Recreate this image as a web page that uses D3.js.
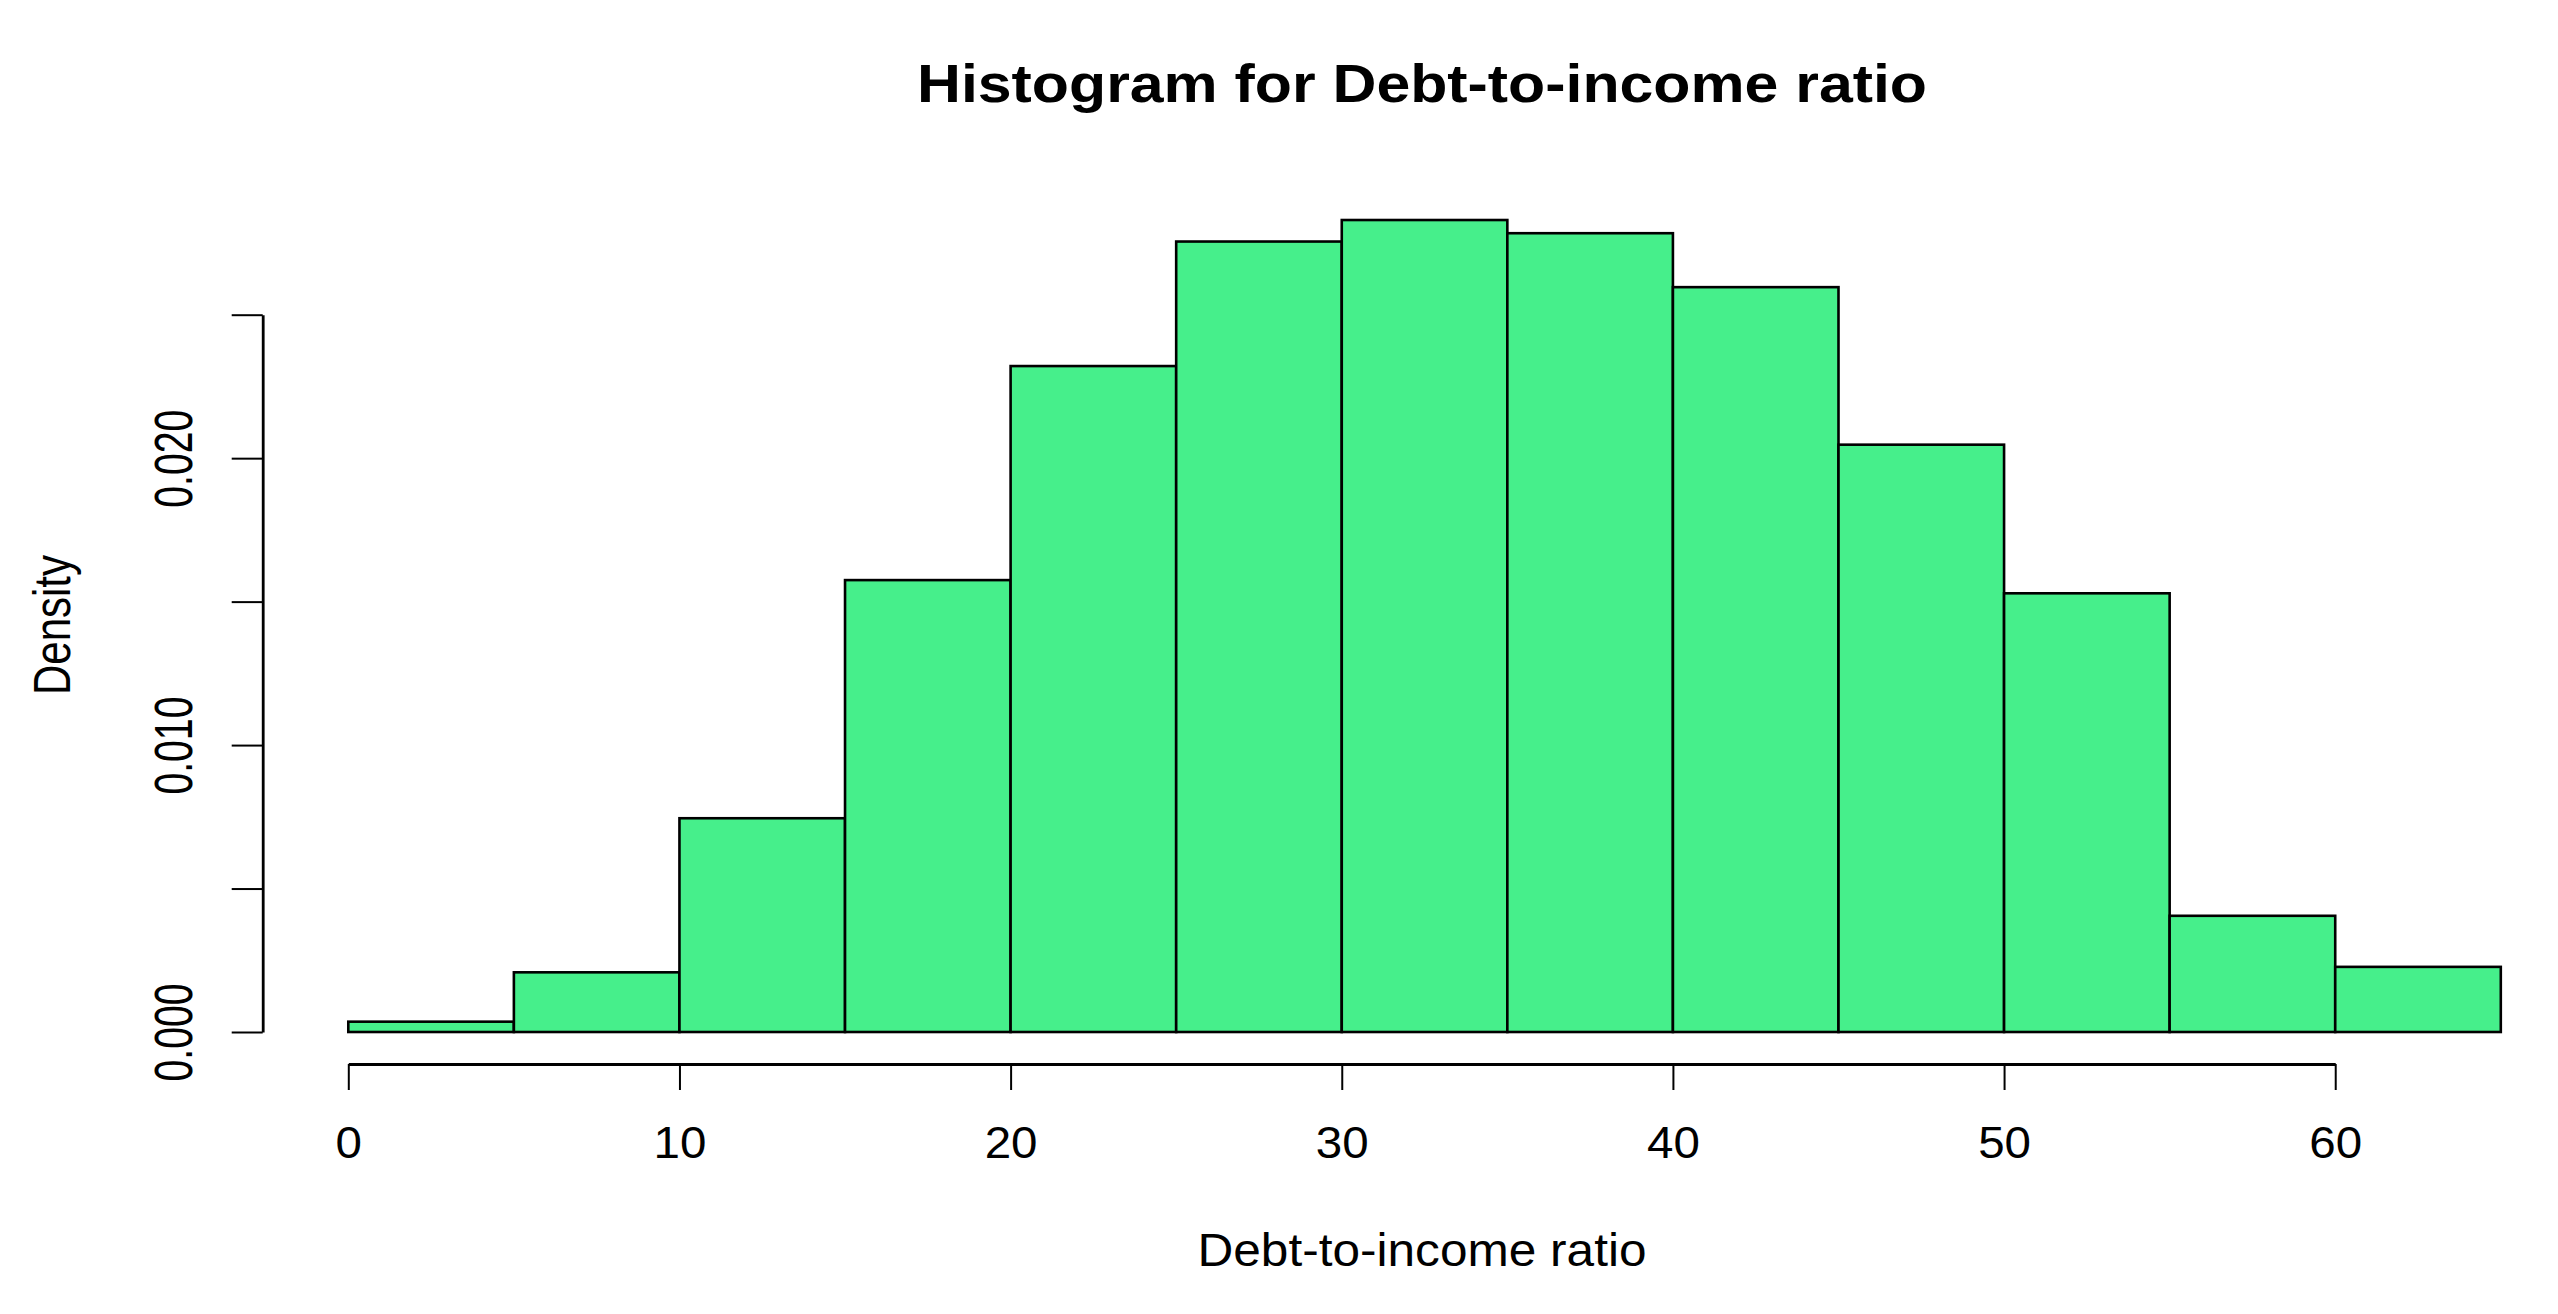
<!DOCTYPE html>
<html>
<head>
<meta charset="utf-8">
<script src="https://cdn.jsdelivr.net/npm/d3@7"></script>
<style>
  html, body { margin: 0; padding: 0; background: #ffffff; }
  svg { display: block; }
  text { font-family: "Liberation Sans", Arial, sans-serif; fill: #000; }
</style>
</head>
<body>
<svg id="chart" width="2558" height="1314"></svg>
<script>
// ---- data ----
const binStarts = [0, 5, 10, 15, 20, 25, 30, 35, 40, 45, 50, 55, 60];
const binWidth = 5;
const densities = [0.00036, 0.00208, 0.00745, 0.01575, 0.02321, 0.02755, 0.02830, 0.02784, 0.02596, 0.02047, 0.01529, 0.00405, 0.00227];
const xTickValues = [0, 10, 20, 30, 40, 50, 60];
const yTickValues = [0, 0.005, 0.010, 0.015, 0.020, 0.025];
const yLabelValues = [0, 0.010, 0.020];
const titleText = "Histogram for Debt-to-income ratio";
const xLabelText = "Debt-to-income ratio";
const yLabelText = "Density";

// ---- layout ----
const svg = d3.select("#chart");
svg.append("rect").attr("width", 2558).attr("height", 1314).attr("fill", "#fff");

const x = d3.scaleLinear().domain([0, 65]).range([348.3, 2500.8]);
const y = d3.scaleLinear().domain([0, 0.025]).range([1032, 314.7]);
const fillColor = "#46ef8b";

function stretch(sel, target) {
  sel.each(function () {
    const t = typeof target === "function" ? target(this) : target;
    d3.select(this).attr("textLength", t).attr("lengthAdjust", "spacingAndGlyphs");
  });
}

// ---- bars ----
svg.append("g").selectAll("rect")
  .data(binStarts.map((s, i) => ({ x0: s, x1: s + binWidth, d: densities[i] })))
  .join("rect")
  .attr("x", d => x(d.x0))
  .attr("width", d => x(d.x1) - x(d.x0))
  .attr("y", d => y(d.d))
  .attr("height", d => y(0) - y(d.d))
  .attr("fill", fillColor)
  .attr("stroke", "#000")
  .attr("stroke-width", 2.6);

// ---- x axis ----
const xAxisScale = x.copy().domain([0, 60]).range([x(0), x(60)]);
const gx = svg.append("g").attr("transform", "translate(0,1064)")
  .call(d3.axisBottom(xAxisScale).tickValues(xTickValues).tickSize(26).tickSizeOuter(0).tickFormat(d3.format("d")));
gx.select(".domain").attr("stroke", "#000").attr("stroke-width", 2.8);
gx.selectAll(".tick line").attr("stroke", "#000").attr("stroke-width", 2);
gx.selectAll(".tick text")
  .attr("y", 94).attr("dy", null)
  .style("font-size", "44px")
  .attr("font-family", null);
gx.selectAll(".tick text").each(function () {
  const w = this.getComputedTextLength();
  d3.select(this).attr("textLength", w * 1.08).attr("lengthAdjust", "spacingAndGlyphs");
});

// ---- y axis ----
const gy = svg.append("g").attr("transform", "translate(262.7,0)")
  .call(d3.axisLeft(y).tickValues(yTickValues).tickSize(31).tickSizeOuter(0)
    .tickFormat(d => yLabelValues.some(v => Math.abs(v - d) < 1e-9) ? d3.format(".3f")(d) : ""));
gy.select(".domain").attr("stroke", "#000").attr("stroke-width", 2.8);
gy.selectAll(".tick line").attr("stroke", "#000").attr("stroke-width", 2);
gy.selectAll(".tick text")
  .attr("x", null).attr("dy", null)
  .attr("transform", "translate(-71,0) rotate(-90)")
  .attr("text-anchor", "middle")
  .style("font-size", "53px");
gy.selectAll(".tick text").filter(function () { return this.textContent !== ""; })
  .call(stretch, 98);
svg.selectAll(".tick text").attr("font-family", null).attr("fill", "#000");
svg.selectAll("g").attr("font-family", null).attr("font-size", null);

// ---- titles ----
svg.append("text")
  .attr("x", 1422).attr("y", 101.7)
  .attr("text-anchor", "middle")
  .style("font-size", "53px").style("font-weight", "bold")
  .text(titleText)
  .call(stretch, 1010);

svg.append("text")
  .attr("x", 1422).attr("y", 1266)
  .attr("text-anchor", "middle")
  .style("font-size", "46px")
  .text(xLabelText)
  .call(stretch, 449);

svg.append("text")
  .attr("transform", "translate(70,625) rotate(-90)")
  .attr("text-anchor", "middle")
  .style("font-size", "52px")
  .text(yLabelText)
  .call(stretch, 140);
</script>
</body>
</html>
